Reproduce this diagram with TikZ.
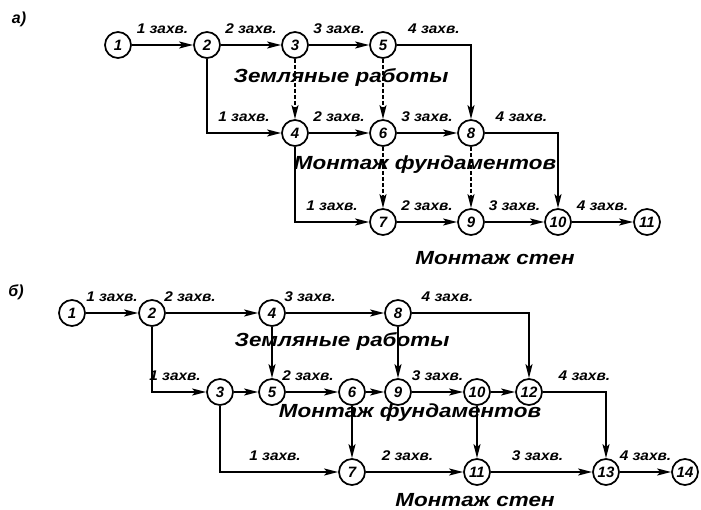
\documentclass[tikz,border=0pt]{standalone}
\usepackage{fontspec}
\usepackage{graphicx}
\setmainfont{Liberation Sans}
\usetikzlibrary{arrows.meta}
\newcommand\labfont{\fontsize{14}{14}\selectfont\itshape\bfseries}
\newcommand\numfont{\fontsize{15}{15}\selectfont\itshape\bfseries}
\newcommand\bigfont{\fontsize{19}{19}\selectfont\itshape\bfseries}
\newcommand\wide[1]{\scalebox{1.18}[1]{#1}}
\newcommand\lwide[1]{\scalebox{1.1}[1]{#1}}
\tikzset{
  nd/.style={circle, draw, line width=1.7pt, minimum size=26pt, inner sep=0pt, font=\numfont},
  ar/.style={line width=1.7pt, -{Stealth[length=14pt,width=7pt,inset=3pt]}},
  dar/.style={ar, dash pattern=on 4pt off 2pt},
  lab/.style={font=\labfont, inner sep=0pt, yshift=16pt},
  big/.style={font=\bigfont, inner sep=0pt},
  part/.style={font=\fontsize{16}{16}\selectfont\itshape\bfseries, inner sep=0pt}
}
\begin{document}
\begin{tikzpicture}[x=1pt,y=-1pt]
\useasboundingbox (0,0) rectangle (701,510);
% ---------- a)
\node[part] (pa) at (19,19) {а)};
\node[nd] (a1) at (118,45) {1};
\node[nd] (a2) at (207,45) {2};
\node[nd] (a3) at (295,45) {3};
\node[nd] (a5) at (383,45) {5};
\node[nd] (a4) at (295,133) {4};
\node[nd] (a6) at (383,133) {6};
\node[nd] (a8) at (471,133) {8};
\node[nd] (a7) at (383,222) {7};
\node[nd] (a9) at (471,222) {9};
\node[nd] (a10) at (558,222) {10};
\node[nd] (a11) at (647,222) {11};
\node[big] (ta1) at (341,78) {\wide{Земляные работы}};
\node[big] (ta2) at (425,165) {\wide{Монтаж фундаментов}};
\node[big] (ta3) at (495,258) {\wide{Монтаж стен}};
\draw[ar] (a1) -- node[lab] {\lwide{1 захв.}} (a2);
\draw[ar] (a2) -- node[lab] {\lwide{2 захв.}} (a3);
\draw[ar] (a3) -- node[lab] {\lwide{3 захв.}} (a5);
\draw[ar] (a5) -| node[lab, pos=0.25] {\lwide{4 захв.}} (a8);
\draw[ar] (a2) |- node[lab, pos=0.75] {\lwide{1 захв.}} (a4);
\draw[ar] (a4) -- node[lab] {\lwide{2 захв.}} (a6);
\draw[ar] (a6) -- node[lab] {\lwide{3 захв.}} (a8);
\draw[ar] (a8) -| node[lab, pos=0.25] {\lwide{4 захв.}} (a10);
\draw[ar] (a4) |- node[lab, pos=0.75] {\lwide{1 захв.}} (a7);
\draw[ar] (a7) -- node[lab] {\lwide{2 захв.}} (a9);
\draw[ar] (a9) -- node[lab] {\lwide{3 захв.}} (a10);
\draw[ar] (a10) -- node[lab] {\lwide{4 захв.}} (a11);
\draw[dar] (a3) -- (a4);
\draw[dar] (a5) -- (a6);
\draw[dar] (a6) -- (a7);
\draw[dar] (a8) -- (a9);
% ---------- b)
\node[part] (pb) at (16,292) {б)};
\node[nd] (b1) at (72,313) {1};
\node[nd] (b2) at (152,313) {2};
\node[nd] (b4) at (272,313) {4};
\node[nd] (b8) at (398,313) {8};
\node[nd] (b3) at (220,392) {3};
\node[nd] (b5) at (272,392) {5};
\node[nd] (b6) at (352,392) {6};
\node[nd] (b9) at (398,392) {9};
\node[nd] (b10) at (477,392) {10};
\node[nd] (b12) at (529,392) {12};
\node[nd] (b7) at (352,472) {7};
\node[nd] (b11) at (477,472) {11};
\node[nd] (b13) at (606,472) {13};
\node[nd] (b14) at (685,472) {14};
\node[big] (tb1) at (342,342) {\wide{Земляные работы}};
\node[big] (tb2) at (410,413) {\wide{Монтаж фундаментов}};
\node[big] (tb3) at (475,500) {\wide{Монтаж стен}};
\draw[ar] (b1) -- node[lab] {\lwide{1 захв.}} (b2);
\draw[ar] (b2) -- node[lab, xshift=-22pt] {\lwide{2 захв.}} (b4);
\draw[ar] (b4) -- node[lab, xshift=-25pt] {\lwide{3 захв.}} (b8);
\draw[ar] (b8) -| node[lab, pos=0.25, xshift=-23pt] {\lwide{4 захв.}} (b12);
\draw[ar] (b2) |- node[lab, pos=0.75, xshift=-4pt] {\lwide{1 захв.}} (b3);
\draw[ar] (b3) -- (b5);
\draw[ar] (b5) -- node[lab, xshift=-4pt] {\lwide{2 захв.}} (b6);
\draw[ar] (b6) -- (b9);
\draw[ar] (b9) -- node[lab] {\lwide{3 захв.}} (b10);
\draw[ar] (b10) -- (b12);
\draw[ar] (b12) -| node[lab, pos=0.25, xshift=10pt] {\lwide{4 захв.}} (b13);
\draw[ar] (b3) |- node[lab, pos=0.75, xshift=-4pt] {\lwide{1 захв.}} (b7);
\draw[ar] (b7) -- node[lab, xshift=-7pt] {\lwide{2 захв.}} (b11);
\draw[ar] (b11) -- node[lab, xshift=-4pt] {\lwide{3 захв.}} (b13);
\draw[ar] (b13) -- node[lab] {\lwide{4 захв.}} (b14);
\draw[ar] (b4) -- (b5);
\draw[ar] (b8) -- (b9);
\draw[ar] (b6) -- (b7);
\draw[ar] (b10) -- (b11);
\end{tikzpicture}
\end{document}
